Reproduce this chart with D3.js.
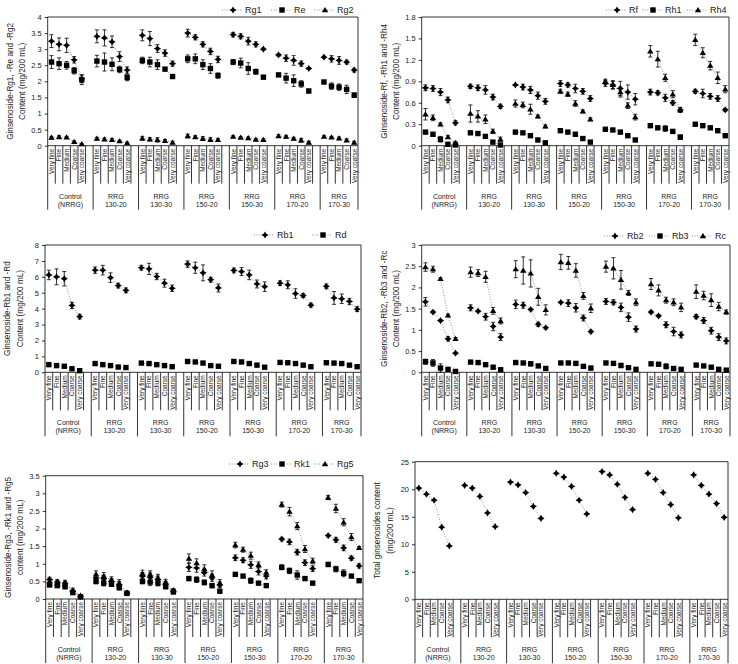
<!DOCTYPE html>
<html><head><meta charset="utf-8">
<script src="https://cdn.jsdelivr.net/npm/d3@7"></script>
<style>
body{margin:0;background:#fff}
svg{display:block}
text{font-family:"Liberation Sans",Arial,Helvetica,sans-serif;fill:#222}
</style>
</head><body>
<svg id="c" width="738" height="664"></svg>
<script>
// ---------- DATA ----------
const sizes = ["Very fine","Fine","Medium","Coarse","Very coarse"];
const groupTop = ["Control","RRG","RRG","RRG","RRG","RRG","RRG"];
const groupBottom = ["(NRRG)","130-20","130-30","150-20","150-30","170-20","170-30"];

// Panel A
const rg1 = [3.25,3.15,3.12,2.67,2.08, 3.4,3.35,3.23,2.77,2.35, 3.43,3.33,3.02,2.88,2.55, 3.5,3.37,3.15,2.93,2.68, 3.45,3.4,3.25,3.15,3.0, 2.82,2.72,2.65,2.55,2.4, 2.75,2.7,2.65,2.6,2.35];
const rg1Err = [0.2,0.2,0.22,0.1,0.12, 0.2,0.25,0.18,0.15,0.1, 0.17,0.22,0.12,0.1,0.08, 0.12,0.08,0.08,0.1,0.1, 0.07,0.08,0.12,0.08,0.03, 0.04,0.1,0.15,0.08,0.03, 0.03,0.1,0.12,0.06,0.06];
const re = [2.6,2.55,2.5,2.33,2.05, 2.63,2.6,2.53,2.37,2.12, 2.65,2.6,2.52,2.38,2.15, 2.7,2.7,2.52,2.4,2.18, 2.6,2.57,2.4,2.3,2.13, 2.2,2.1,2.02,1.92,1.7, 1.98,1.85,1.82,1.75,1.57];
const reErr = [0.2,0.18,0.12,0.1,0.15, 0.18,0.28,0.2,0.1,0.1, 0.1,0.15,0.15,0.05,0.05, 0.12,0.15,0.15,0.15,0.08, 0.08,0.15,0.18,0.08,0.05, 0.05,0.15,0.18,0.1,0.06, 0.05,0.1,0.1,0.13,0.07];
const rg2 = [0.25,0.27,0.26,0.12,0.05, 0.22,0.2,0.18,0.14,0.08, 0.23,0.2,0.18,0.15,0.1, 0.3,0.27,0.22,0.19,0.18, 0.28,0.25,0.24,0.19,0.18, 0.3,0.28,0.22,0.17,0.1, 0.28,0.26,0.23,0.17,0.1];
const rg2Err = [0.04,0.04,0.03,0.03,0.02, 0.04,0.04,0.04,0.03,0.03, 0.06,0.05,0.07,0.04,0.04, 0.06,0.04,0.06,0.06,0.04, 0.03,0.03,0.03,0.03,0.03, 0.04,0.04,0.04,0.06,0.04, 0.03,0.03,0.04,0.04,0.04];

// Panel B
const rf = [0.81,0.8,0.75,0.64,0.32, 0.83,0.81,0.78,0.68,0.55, 0.85,0.82,0.78,0.7,0.62, 0.87,0.85,0.8,0.76,0.66, 0.87,0.85,0.8,0.75,0.65, 0.75,0.74,0.67,0.6,0.5, 0.76,0.73,0.69,0.66,0.5];
const rfErr = [0.04,0.04,0.05,0.04,0.03, 0.03,0.04,0.06,0.04,0.03, 0.01,0.04,0.05,0.05,0.04, 0.04,0.03,0.06,0.04,0.04, 0.04,0.06,0.1,0.1,0.08, 0.04,0.03,0.05,0.03,0.03, 0.03,0.06,0.04,0.04,0.02];
const rh1 = [0.19,0.16,0.09,0.02,0.01, 0.18,0.17,0.13,0.05,0.01, 0.19,0.18,0.14,0.08,0.04, 0.21,0.19,0.16,0.1,0.05, 0.23,0.22,0.19,0.14,0.08, 0.28,0.25,0.24,0.2,0.12, 0.3,0.28,0.25,0.21,0.14];
const rh1Err = [0.02,0.02,0.04,0.01,0.02, 0.01,0.01,0.02,0.02,0.02, 0.01,0.02,0.01,0.01,0.01, 0.01,0.01,0.01,0.02,0.01, 0.01,0.01,0.01,0.01,0.01, 0.01,0.02,0.04,0.01,0.03, 0.01,0.01,0.02,0.01,0.01];
const rh4 = [0.44,0.39,0.3,0.12,0.04, 0.45,0.41,0.37,0.2,0.09, 0.59,0.57,0.51,0.41,0.27, 0.76,0.72,0.59,0.48,0.37, 0.9,0.85,0.75,0.56,0.4, 1.32,1.21,0.95,0.72,0.5, 1.48,1.3,1.12,0.95,0.79];
const rh4Err = [0.08,0.04,0.02,0.02,0.02, 0.12,0.08,0.06,0.03,0.03, 0.05,0.04,0.07,0.02,0.02, 0.03,0.03,0.04,0.02,0.02, 0.03,0.05,0.07,0.04,0.04, 0.08,0.11,0.05,0.05,0.03, 0.08,0.07,0.06,0.08,0.05];

// Panel C
const rb1 = [6.12,6.0,5.88,4.2,3.5, 6.42,6.42,5.95,5.45,5.15, 6.57,6.5,6.02,5.6,5.28, 6.8,6.57,6.25,5.82,5.3, 6.4,6.33,6.12,5.55,5.38, 5.6,5.5,4.95,4.82,4.22, 5.4,4.67,4.62,4.45,3.97];
const rb1Err = [0.3,0.5,0.45,0.2,0.15, 0.2,0.3,0.3,0.15,0.15, 0.15,0.35,0.2,0.25,0.2, 0.2,0.35,0.5,0.15,0.25, 0.15,0.25,0.3,0.25,0.3, 0.15,0.25,0.3,0.12,0.12, 0.15,0.4,0.3,0.2,0.15];
const rd = [0.48,0.42,0.38,0.22,0.1, 0.55,0.48,0.42,0.33,0.3, 0.58,0.55,0.48,0.42,0.35, 0.68,0.65,0.58,0.42,0.38, 0.68,0.65,0.55,0.45,0.32, 0.62,0.6,0.55,0.45,0.35, 0.6,0.58,0.55,0.45,0.35];
const rdErr = [0.06,0.06,0.05,0.1,0.05, 0.05,0.05,0.07,0.05,0.05, 0.05,0.05,0.06,0.05,0.05, 0.06,0.06,0.1,0.05,0.05, 0.08,0.1,0.08,0.06,0.05, 0.06,0.08,0.08,0.05,0.05, 0.05,0.1,0.06,0.05,0.05];

// Panel D
const rb2 = [1.66,1.42,1.22,0.79,0.45, 1.52,1.44,1.31,1.08,0.83, 1.6,1.58,1.48,1.13,1.05, 1.65,1.63,1.52,1.28,0.96, 1.67,1.65,1.53,1.3,1.02, 1.42,1.33,1.12,0.96,0.88, 1.31,1.22,0.98,0.83,0.74];
const rb2Err = [0.1,0.03,0.02,0.05,0.02, 0.07,0.02,0.08,0.1,0.08, 0.1,0.07,0.03,0.05,0.03, 0.02,0.08,0.1,0.07,0.03, 0.07,0.06,0.1,0.1,0.07, 0.03,0.03,0.07,0.1,0.07, 0.05,0.07,0.08,0.08,0.07];
const rb3 = [0.25,0.22,0.1,0.07,0.02, 0.24,0.23,0.18,0.12,0.06, 0.23,0.22,0.2,0.15,0.09, 0.22,0.22,0.21,0.14,0.1, 0.22,0.21,0.16,0.11,0.07, 0.2,0.19,0.14,0.09,0.07, 0.17,0.15,0.12,0.07,0.05];
const rb3Err = [0.06,0.08,0.1,0.03,0.02, 0.03,0.03,0.03,0.04,0.03, 0.02,0.02,0.05,0.03,0.03, 0.02,0.02,0.03,0.03,0.04, 0.02,0.02,0.05,0.03,0.02, 0.03,0.03,0.06,0.03,0.02, 0.03,0.02,0.02,0.02,0.02];
const rc = [2.48,2.43,2.2,1.34,0.79, 2.36,2.34,2.25,1.45,1.21, 2.43,2.4,2.33,1.78,1.47, 2.6,2.58,2.4,1.8,1.51, 2.49,2.45,2.18,1.87,1.65, 2.08,1.93,1.7,1.65,1.53, 1.9,1.81,1.7,1.55,1.42];
const rcErr = [0.1,0.07,0.03,0.03,0.03, 0.12,0.08,0.13,0.08,0.07, 0.2,0.32,0.32,0.2,0.12, 0.18,0.15,0.16,0.08,0.1, 0.13,0.25,0.22,0.06,0.08, 0.13,0.13,0.07,0.08,0.1, 0.16,0.1,0.15,0.1,0.05];

// Panel E
const rg3 = [0.55,0.48,0.45,0.22,0.08, 0.6,0.58,0.5,0.4,0.17, 0.65,0.62,0.55,0.42,0.22, 0.9,0.88,0.75,0.6,0.4, 1.17,1.1,0.97,0.78,0.65, 1.7,1.62,1.33,1.03,0.86, 1.8,1.68,1.45,1.16,0.94];
const rg3Err = [0.07,0.07,0.08,0.05,0.03, 0.1,0.1,0.08,0.1,0.04, 0.1,0.12,0.1,0.08,0.05, 0.12,0.12,0.1,0.1,0.08, 0.08,0.07,0.1,0.1,0.08, 0.05,0.08,0.08,0.08,0.08, 0.03,0.07,0.08,0.06,0.06];
const rk1 = [0.4,0.38,0.35,0.18,0.06, 0.5,0.45,0.42,0.32,0.16, 0.5,0.48,0.45,0.35,0.2, 0.58,0.55,0.47,0.38,0.22, 0.7,0.65,0.52,0.45,0.38, 0.9,0.8,0.68,0.58,0.45, 0.98,0.85,0.73,0.65,0.52];
const rk1Err = [0.05,0.05,0.06,0.04,0.02, 0.07,0.08,0.06,0.06,0.04, 0.07,0.1,0.08,0.06,0.04, 0.06,0.08,0.07,0.06,0.04, 0.03,0.04,0.08,0.04,0.03, 0.07,0.08,0.12,0.04,0.04, 0.06,0.08,0.1,0.04,0.03];
const rg5 = [0.5,0.45,0.42,0.25,0.08, 0.7,0.65,0.55,0.45,0.18, 0.72,0.7,0.6,0.48,0.25, 1.15,1.02,0.85,0.68,0.45, 1.53,1.4,1.23,0.97,0.75, 2.68,2.48,2.07,1.42,1.08, 2.88,2.57,2.18,1.76,1.45];
const rg5Err = [0.07,0.07,0.08,0.06,0.03, 0.1,0.1,0.08,0.1,0.04, 0.1,0.1,0.1,0.08,0.05, 0.13,0.12,0.12,0.12,0.1, 0.08,0.07,0.1,0.08,0.08, 0.07,0.12,0.1,0.1,0.08, 0.06,0.12,0.1,0.1,0.04];

// Panel F
const total = [20.2,19.1,18.0,13.1,9.7, 20.7,20.2,18.7,15.7,13.2, 21.3,20.8,19.4,16.9,14.7, 22.9,22.2,20.5,18.0,15.5, 23.2,22.6,20.9,18.5,16.3, 22.9,21.8,19.4,17.2,14.8, 22.6,20.7,19.1,17.4,14.9];

const ticksA = [0,0.5,1,1.5,2,2.5,3,3.5,4];
const ticksB = [0,0.3,0.6,0.9,1.2,1.5,1.8];
const ticksC = [0,1,2,3,4,5,6,7,8];
const ticksD = [0,0.5,1,1.5,2,2.5,3];
const ticksE = [0,0.5,1,1.5,2,2.5,3,3.5];
const ticksF = [0,5,10,15,20,25];

// ---------- DRAW ----------
const svg = d3.select("#c");
const slot = i => Math.floor(i/5)*6 + (i%5);

const shapes = {
  star: r => { const w=r*0.38; return `M0,${-r}L${w},${-w}L${r},0L${w},${w}L0,${r}L${-w},${w}L${-r},0L${-w},${-w}Z`; },
  square: r => `M${-r},${-r}H${r}V${r}H${-r}Z`,
  tri: r => `M0,${-r*1.05}L${r*1.1},${r*0.75}L${-r*1.1},${r*0.75}Z`
};
const shapeSize = {star:3.6, square:2.7, tri:2.9};

function marker(g, shape, x, y){
  g.append("path").attr("d", shapes[shape](shapeSize[shape]))
   .attr("transform", `translate(${x},${y})`).attr("fill","#000");
}

function panel(cfg){
  const {x0,x1,y0,y1,domain,ticks,fmt,series,title,legend} = cfg;
  const g = svg.append("g");
  const x = d3.scaleLinear().domain([-0.5,40.5]).range([x0,x1]);
  const y = d3.scaleLinear().domain(domain).range([y1,y0]);

  // frame
  g.append("path").attr("d",`M${x0},${y1}V${y0}H${x1}V${y1}`).attr("fill","none").attr("stroke","#000").attr("stroke-width",0.8);
  g.append("line").attr("x1",x0).attr("x2",x1).attr("y1",y1).attr("y2",y1).attr("stroke","#000").attr("stroke-width",0.8);

  // y axis
  const ax = d3.axisLeft(y).tickValues(ticks).tickSize(3).tickPadding(3).tickFormat(fmt);
  const ag = g.append("g").attr("transform",`translate(${x0},0)`).call(ax);
  ag.select(".domain").remove();
  ag.selectAll("line").attr("stroke","#000").attr("stroke-width",0.8);
  ag.selectAll("text").attr("font-size",7.5).attr("fill","#333").style("font-family",'"Liberation Sans",Arial,sans-serif');

  // title
  const cy = (y0+y1)/2;
  title.forEach((t,k)=>{
    g.append("text").attr("transform",`translate(${x0-35+k*12.5},${cy}) rotate(-90)`)
     .attr("text-anchor","middle").attr("font-size",8.2).attr("fill","#333").text(t);
  });

  // category separators
  for(let b=-1;b<=40;b++){
    const bx = x(b+0.5);
    const isGroup = (b===-1)||(b===40)||((b+1)%6===0);
    g.append("line").attr("x1",bx).attr("x2",bx).attr("y1",y1).attr("y2",y1+(isGroup?64:38)).attr("stroke","#000").attr("stroke-width",0.8);
  }
  // category labels
  for(let i=0;i<35;i++){
    const cx = x(slot(i));
    g.append("text").attr("transform",`translate(${cx+2.4},${y1+3}) rotate(-90)`)
     .attr("text-anchor","end").attr("font-size",6.5).attr("fill","#333").text(sizes[i%5]);
  }
  // group labels
  for(let k=0;k<7;k++){
    const gx = (x(k*6-0.5)+x(Math.min(k*6+5.5,40.5)))/2;
    g.append("text").attr("x",gx).attr("y",y1+53).attr("text-anchor","middle").attr("font-size",7).attr("fill","#333").text(groupTop[k]);
    g.append("text").attr("x",gx).attr("y",y1+61).attr("text-anchor","middle").attr("font-size",7).attr("fill","#333").text(groupBottom[k]);
  }

  // series
  series.forEach(s=>{
    const pts = s.values.map((v,i)=>({i,v,e:s.err?s.err[i]:0}));
    for(let k=0;k<7;k++){
      const seg = pts.slice(k*5,k*5+5);
      g.append("path").attr("d", d3.line().x(d=>x(slot(d.i))).y(d=>y(d.v))(seg))
       .attr("fill","none").attr("stroke","#777").attr("stroke-width",0.8).attr("stroke-dasharray","1,1.6");
    }
    if(s.err){
      pts.forEach(d=>{
        const px=x(slot(d.i)), ya=y(d.v+d.e), yb=y(Math.max(0,d.v-d.e));
        g.append("path").attr("d",`M${px},${ya}V${yb}M${px-2},${ya}H${px+2}M${px-2},${yb}H${px+2}`)
         .attr("stroke","#000").attr("stroke-width",0.8).attr("fill","none");
      });
    }
    pts.forEach(d=>marker(g,s.shape,x(slot(d.i)),y(d.v)));
  });

  // legend
  if(legend){
    legend.items.forEach((mx,k)=>{
      const s = series[k];
      g.append("line").attr("x1",mx-11).attr("x2",mx+9).attr("y1",legend.y).attr("y2",legend.y)
       .attr("stroke","#777").attr("stroke-width",0.8).attr("stroke-dasharray","1,1.6");
      marker(g,s.shape,mx,legend.y);
      g.append("text").attr("x",mx+12).attr("y",legend.y+3.3).attr("font-size",9).attr("fill","#333").text(s.name);
    });
  }
}

panel({x0:47.7,x1:358,y0:17,y1:145.7,domain:[0,4],ticks:ticksA,fmt:d=>d,
  title:["Ginsenoside-Rg1, -Re and -Rg2","Content (mg/200 mL)"],
  series:[{name:"Rg1",values:rg1,err:rg1Err,shape:"star"},{name:"Re",values:re,err:reErr,shape:"square"},{name:"Rg2",values:rg2,err:rg2Err,shape:"tri"}],
  legend:{y:10,items:[233,282,325]}});
panel({x0:421.7,x1:729,y0:17,y1:145.7,domain:[0,1.8],ticks:ticksB,fmt:d=>d,
  title:["Ginsenoside-Rf, -Rh1 and -Rh4","Content (mg/200 mL)"],
  series:[{name:"Rf",values:rf,err:rfErr,shape:"star"},{name:"Rh1",values:rh1,err:rh1Err,shape:"square"},{name:"Rh4",values:rh4,err:rh4Err,shape:"tri"}],
  legend:{y:10,items:[617,653,698]}});
panel({x0:45,x1:361,y0:245,y1:372.3,domain:[0,8],ticks:ticksC,fmt:d=>d,
  title:["Ginsenoside-Rb1 and -Rd","Content (mg/200 mL)"],
  series:[{name:"Rb1",values:rb1,err:rb1Err,shape:"star"},{name:"Rd",values:rd,err:rdErr,shape:"square"}],
  legend:{y:235,items:[265,323]}});
panel({x0:421.7,x1:730,y0:245,y1:372.3,domain:[0,3],ticks:ticksD,fmt:d=>d,
  title:["Ginsenoside-Rb2, -Rb3 and -Rc","Content (mg/200 mL)"],
  series:[{name:"Rb2",values:rb2,err:rb2Err,shape:"star"},{name:"Rb3",values:rb3,err:rb3Err,shape:"square"},{name:"Rc",values:rc,err:rcErr,shape:"tri"}],
  legend:{y:236,items:[615,660,703]}});
panel({x0:45.7,x1:363,y0:475.7,y1:599,domain:[0,3.5],ticks:ticksE,fmt:d=>d,
  title:["Ginsenoside-Rg3, -Rk1 and -Rg5","content (mg/200 mL)"],
  series:[{name:"Rg3",values:rg3,err:rg3Err,shape:"star"},{name:"Rk1",values:rk1,err:rk1Err,shape:"square"},{name:"Rg5",values:rg5,err:rg5Err,shape:"tri"}],
  legend:{y:464,items:[240,282,325]}});
panel({x0:415,x1:728,y0:461.7,y1:599.3,domain:[0,25],ticks:ticksF,fmt:d=>d,
  title:["Total ginsenosides content","(mg/200 mL)"],
  series:[{name:"Total",values:total,err:null,shape:"star"}],
  legend:null});
</script>
</body></html>
